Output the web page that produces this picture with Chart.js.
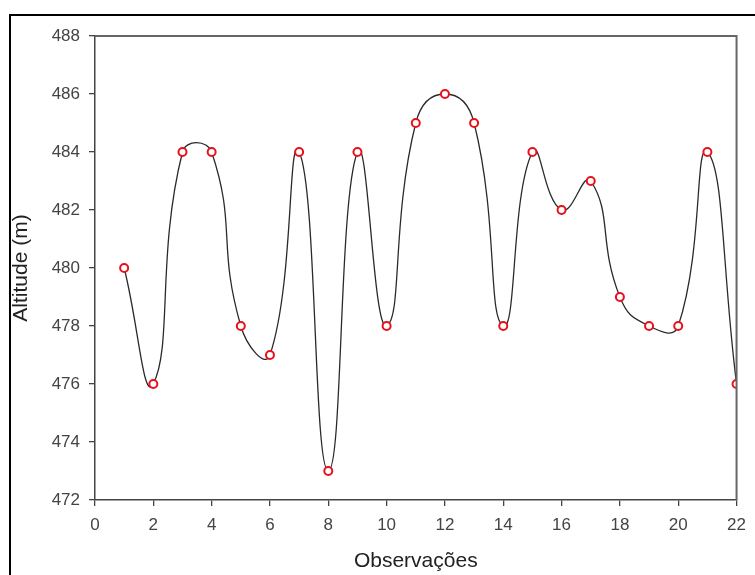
<!DOCTYPE html>
<html>
<head>
<meta charset="utf-8">
<script src="https://cdn.jsdelivr.net/npm/chart.js@4/dist/chart.umd.min.js"></script>
<style>
  html, body { margin: 0; padding: 0; background: #fff; }
  #wrap { position: relative; width: 755px; height: 575px; overflow: hidden; background: #fff; }
  #frame { position: absolute; left: 9px; top: 14px; width: 800px; height: 700px;
           border-left: 2px solid #000; border-top: 2px solid #000; box-sizing: border-box; }
  canvas { position: absolute; left: 0; top: 0; }
</style>
</head>
<body>
<div id="wrap">
  <div id="frame"></div>
  <canvas id="c" width="755" height="575"></canvas>
</div>
<script>
// Data
const observations = [1, 2, 3, 4, 5, 6, 7, 8, 9, 10, 11, 12, 13, 14, 15, 16, 17, 18, 19, 20, 21, 22];
const altitude     = [480, 476, 484, 484, 478, 477, 484, 473, 484, 478, 485, 486, 485, 478, 484, 482, 483, 479, 478, 478, 484, 476];
const xTickValues  = [0, 2, 4, 6, 8, 10, 12, 14, 16, 18, 20, 22];
const yTickValues  = [472, 474, 476, 478, 480, 482, 484, 486, 488];
const xTitle = 'Observações';
const yTitle = 'Altitude (m)';

const points = observations.map((x, i) => ({ x: x, y: altitude[i] }));

const frameBox = {
  id: 'frameBox',
  afterDatasetsDraw(chart) {
    const { ctx, chartArea: a } = chart;
    ctx.save();
    ctx.strokeStyle = '#666';
    ctx.lineWidth = 2;
    ctx.beginPath();
    ctx.moveTo(a.left, a.top);
    ctx.lineTo(a.right, a.top);
    ctx.lineTo(a.right, a.bottom);
    ctx.stroke();
    ctx.restore();
  }
};

new Chart(document.getElementById('c'), {
  type: 'line',
  data: {
    datasets: [{
      data: points,
      borderColor: '#2a2a2a',
      borderWidth: 1.3,
      tension: 0.5,
      fill: false,
      pointRadius: 4,
      pointHoverRadius: 4,
      pointBorderWidth: 2,
      pointBorderColor: '#e8101a',
      pointBackgroundColor: '#fff'
    }]
  },
  options: {
    responsive: false,
    animation: false,
    events: [],
    layout: { padding: { top: 36, right: 16, left: 0, bottom: 0 } },
    plugins: { legend: { display: false }, tooltip: { enabled: false } },
    scales: {
      x: {
        type: 'linear',
        min: 0, max: 22,
        afterFit(s) { s.height = 75; },
        afterBuildTicks(s) { s.ticks = xTickValues.map(v => ({ value: v })); },
        grid: { drawOnChartArea: false, drawTicks: true, tickLength: 6, color: '#444', lineWidth: 1.3 },
        border: { display: true, color: '#444', width: 1.5 },
        ticks: { color: '#444', padding: 9, font: { family: 'Liberation Sans', size: 17 }, maxRotation: 0, autoSkip: false },
        title: { display: true, text: xTitle, color: '#222', font: { family: 'Liberation Sans', size: 21 }, padding: { top: 0, bottom: 1 } }
      },
      y: {
        type: 'linear',
        min: 472, max: 488,
        afterFit(s) { s.width = 95; },
        afterBuildTicks(s) { s.ticks = yTickValues.map(v => ({ value: v })); },
        grid: { drawOnChartArea: false, drawTicks: true, tickLength: 6, color: '#444', lineWidth: 1.3 },
        border: { display: true, color: '#444', width: 1.5 },
        ticks: { color: '#444', padding: 9, font: { family: 'Liberation Sans', size: 17 } },
        title: { display: true, text: yTitle, color: '#222', font: { family: 'Liberation Sans', size: 21 }, padding: { top: 9, bottom: 0 } }
      }
    }
  },
  plugins: [frameBox]
});
</script>
</body>
</html>
